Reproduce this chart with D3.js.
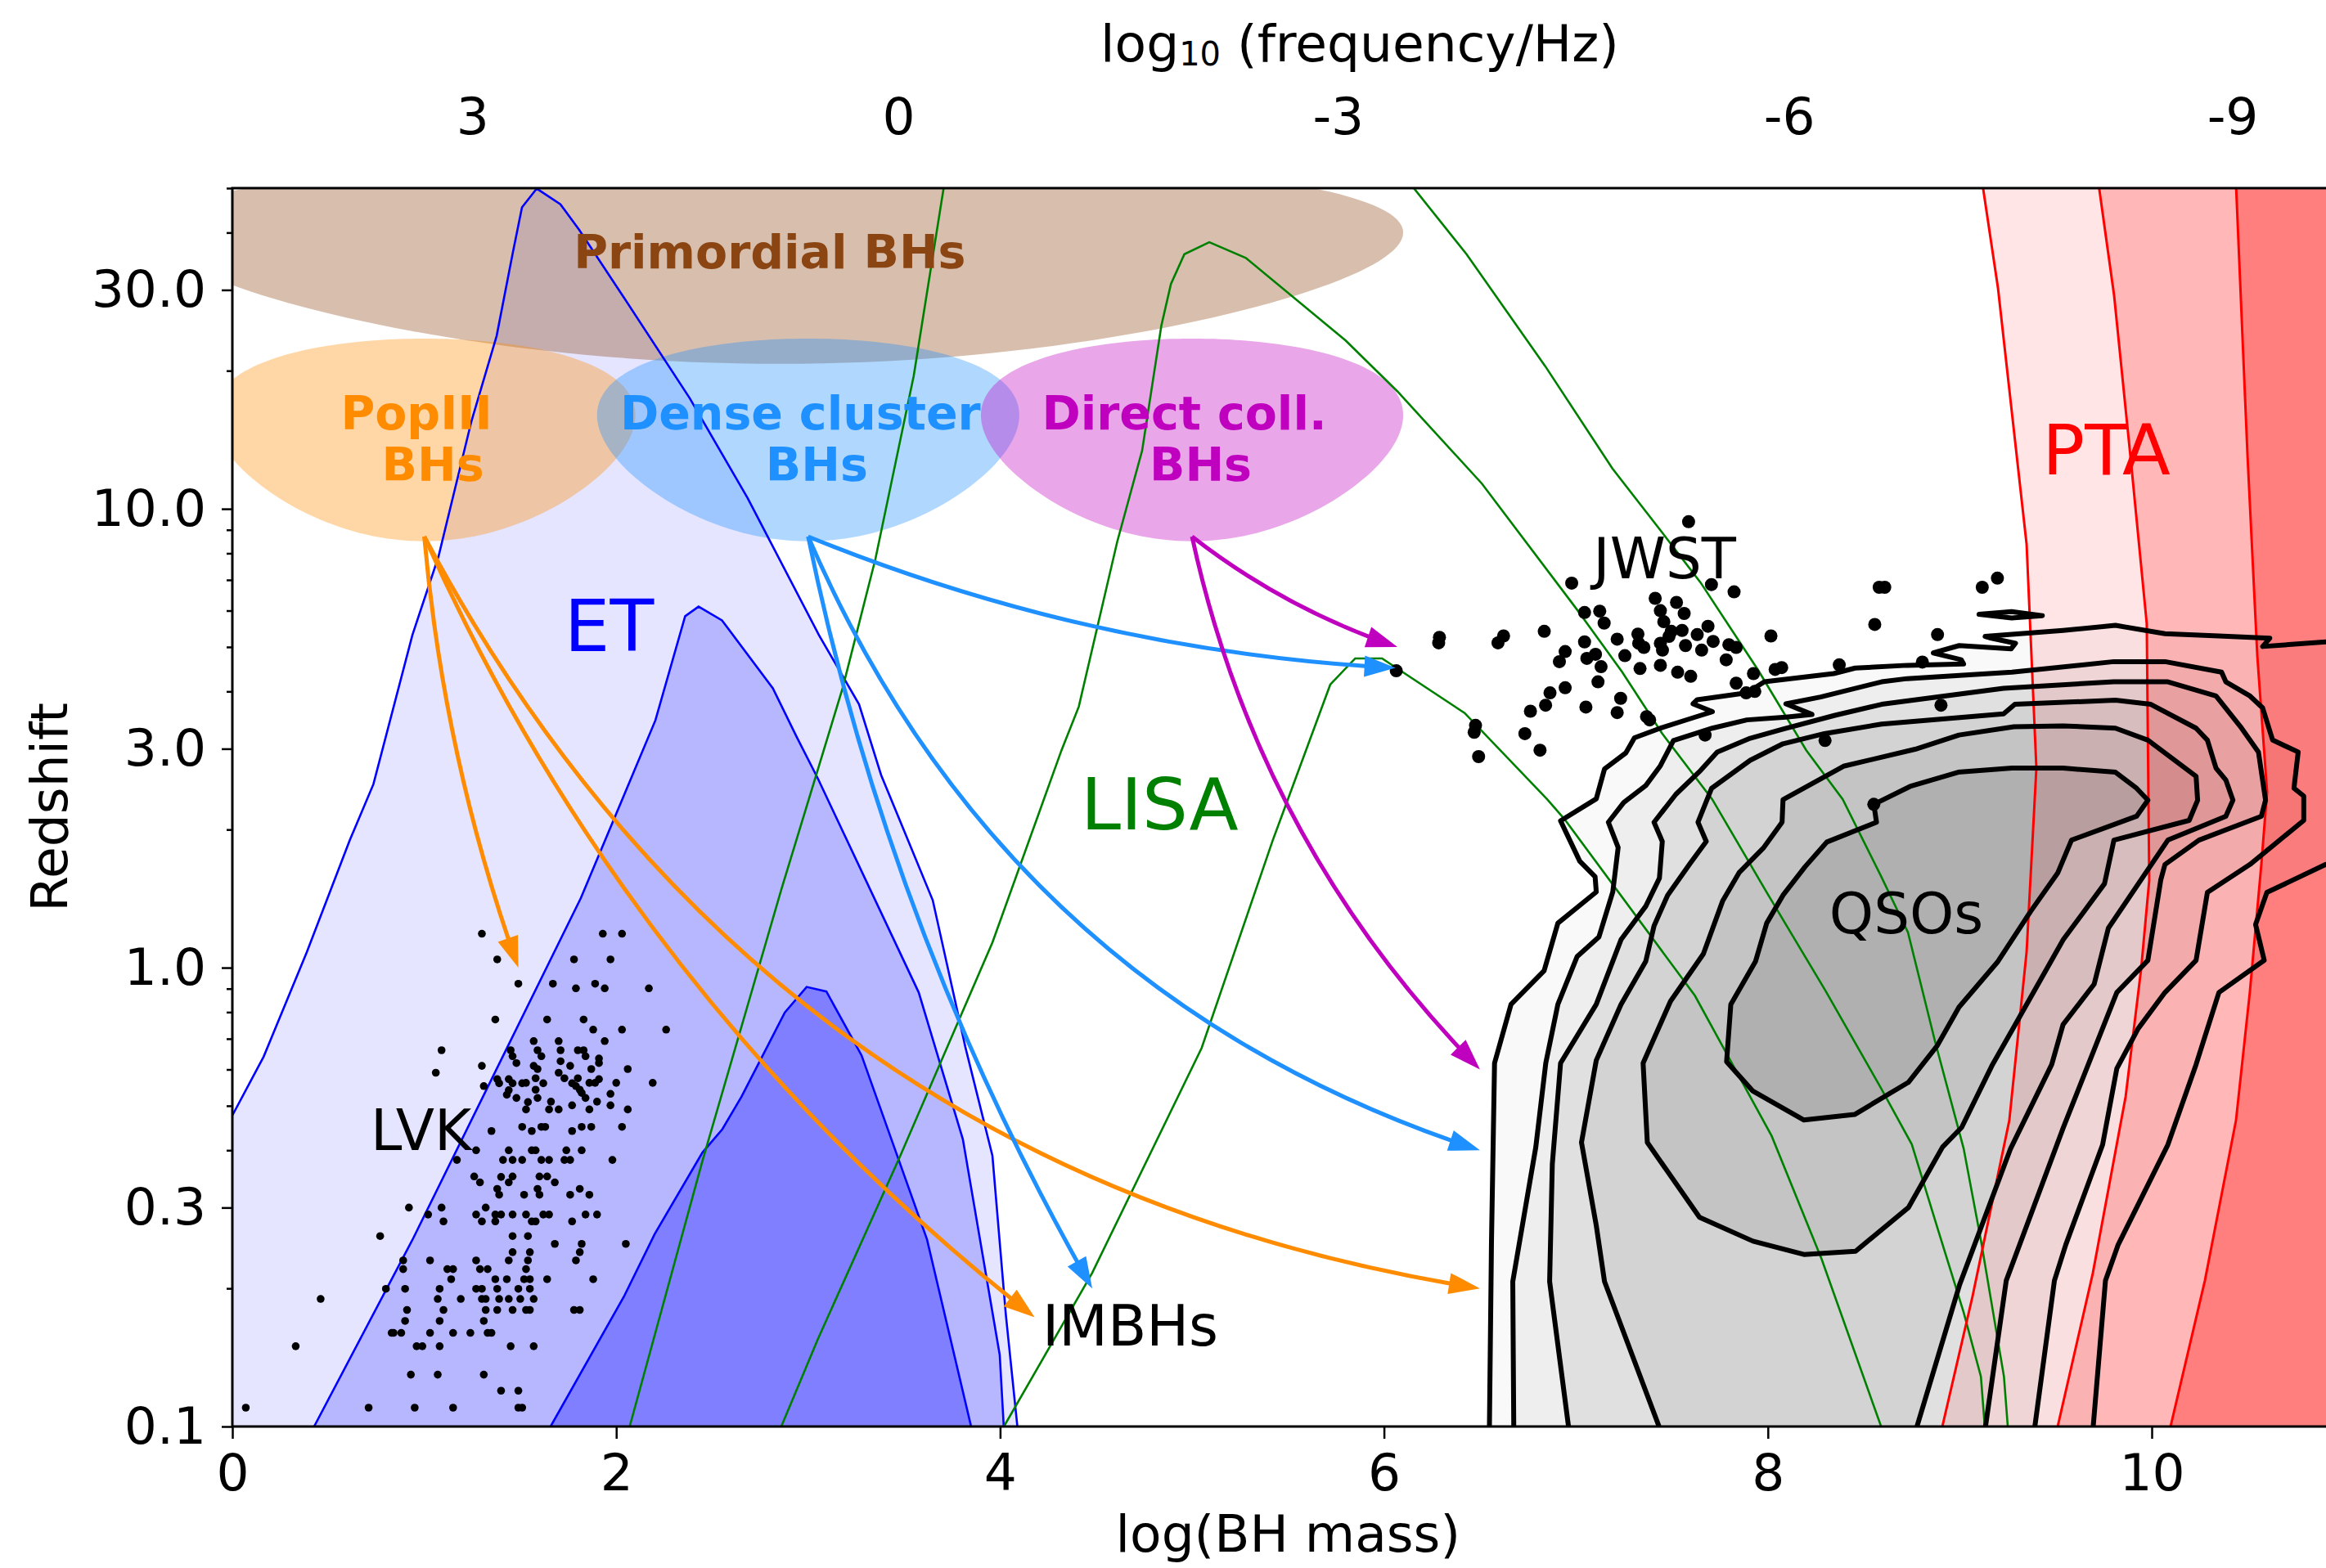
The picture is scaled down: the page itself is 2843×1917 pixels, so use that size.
<!DOCTYPE html>
<html>
<head>
<meta charset="utf-8">
<script src="https://cdn.jsdelivr.net/npm/d3@7"></script>
<style>
  body { margin: 0; background: #fff; }
  svg { font-family: "DejaVu Sans", sans-serif; }
</style>
</head>
<body>
<svg id="chart"></svg>
<script>
// All curves/points below are [log10(BH mass), log10(redshift)]

// --- ET horizons (outer, middle, inner) ---
const etOuter = [[0,-0.322],[0.163,-0.194],[0.388,0.034],[0.612,0.278],[0.735,0.40],[0.938,0.725],[1.074,0.896],[1.245,1.19],[1.377,1.377],[1.462,1.56],[1.509,1.657],[1.586,1.698],[1.709,1.664],[1.807,1.608],[2.025,1.47],[2.383,1.241],[2.685,1.023],[3.056,0.725],[3.265,0.574],[3.38,0.42],[3.649,0.147],[3.819,-0.173],[3.96,-0.41],[4.03,-0.757],[4.09,-1.0]];
const etMid = [[0.426,-1.0],[0.942,-0.59],[1.432,-0.174],[1.816,0.152],[2.204,0.539],[2.359,0.766],[2.429,0.787],[2.551,0.757],[2.816,0.609],[2.939,0.504],[3.052,0.411],[3.576,-0.054],[3.806,-0.374],[3.998,-0.844],[4.019,-1.0]];
const etInner = [[1.658,-1.0],[2.04,-0.717],[2.2,-0.581],[2.449,-0.403],[2.553,-0.352],[2.653,-0.281],[2.878,-0.098],[2.992,-0.042],[3.095,-0.052],[3.278,-0.191],[3.619,-0.592],[3.849,-1.0]];

// --- LISA horizons ---
const lisaOuter = [[2.07,-1.0],[2.45,-0.42],[2.86,0.17],[3.18,0.61],[3.35,0.89],[3.55,1.29],[3.71,1.71],[3.78,1.85],[6.05,1.85],[6.14,1.707],[6.43,1.555],[6.84,1.311],[7.19,1.088],[7.45,0.948],[7.65,0.839],[7.95,0.648],[8.20,0.474],[8.39,0.367],[8.59,0.199],[8.73,0.077],[8.87,-0.159],[9.02,-0.394],[9.11,-0.594],[9.23,-0.891],[9.25,-1.0]];
const lisaMid = [[2.86,-1.0],[3.05,-0.81],[3.48,-0.41],[3.96,0.055],[4.32,0.474],[4.41,0.569],[4.61,0.928],[4.74,1.127],[4.84,1.399],[4.89,1.49],[4.96,1.555],[5.09,1.581],[5.28,1.547],[5.80,1.367],[6.07,1.256],[6.51,1.055],[7.01,0.778],[7.24,0.645],[7.45,0.51],[7.71,0.367],[8.0,0.16],[8.3,-0.05],[8.59,-0.263],[8.75,-0.385],[8.89,-0.576],[9.02,-0.751],[9.11,-0.891],[9.13,-1.0]];
const lisaInner = [[4.02,-1.0],[4.48,-0.665],[5.05,-0.175],[5.42,0.277],[5.72,0.617],[5.85,0.674],[5.99,0.674],[6.42,0.555],[6.85,0.367],[6.94,0.324],[7.62,-0.061],[8.02,-0.367],[8.28,-0.635],[8.59,-1.0]];

// --- PTA horizons (top to bottom) ---
const ptaOuter = [[9.118,1.708],[9.199,1.481],[9.348,0.923],[9.399,0.435],[9.348,0.034],[9.258,-0.333],[9.066,-0.717],[8.909,-1.0]];
const ptaMid = [[9.723,1.708],[9.804,1.465],[9.893,1.098],[9.974,0.75],[9.987,0.19],[9.945,-0.002],[9.864,-0.281],[9.693,-0.666],[9.51,-1.0]];
const ptaInner = [[10.439,1.708],[10.499,1.116],[10.55,0.68],[10.601,0.383],[10.571,0.225],[10.511,-0.054],[10.439,-0.333],[10.277,-0.682],[10.098,-1.0]];

// --- QSO density contours (outer to inner) ---
const qso1 = [[6.548,-1.05],[6.560,-0.60],[6.576,-0.208],[6.662,-0.080],[6.834,-0.007],[6.906,0.097],[7.106,0.165],[7.10,0.198],[7.02,0.232],[6.92,0.32],[7.106,0.368],[7.149,0.433],[7.26,0.468],[7.305,0.501],[7.44,0.522],[7.621,0.546],[7.711,0.558],[7.61,0.575],[7.632,0.584],[7.891,0.599],[7.982,0.623],[8.343,0.641],[8.455,0.653],[8.726,0.659],[9.02,0.662],[9.008,0.671],[8.862,0.686],[8.997,0.702],[9.268,0.695],[9.29,0.707],[9.155,0.719],[9.132,0.722],[9.538,0.735],[9.811,0.746],[10.069,0.728],[10.349,0.723],[10.615,0.718],[10.578,0.70],[10.907,0.71],[11.3,0.70],[11.3,0.22],[10.907,0.225],[10.6,0.164],[10.541,0.094],[10.586,0.016],[10.35,-0.054],[10.231,-0.211],[10.084,-0.386],[9.825,-0.604],[9.759,-0.682],[9.685,-1.05]];
const qso2 = [[6.677,-1.05],[6.671,-0.684],[6.791,-0.391],[6.843,-0.208],[6.906,-0.08],[7.006,0.024],[7.12,0.067],[7.192,0.165],[7.22,0.262],[7.169,0.317],[7.249,0.36],[7.364,0.397],[7.44,0.44],[7.508,0.495],[7.711,0.522],[7.891,0.54],[8.094,0.546],[8.23,0.552],[8.094,0.575],[8.275,0.59],[8.593,0.623],[8.726,0.630],[9.272,0.644],[9.803,0.667],[10.069,0.667],[10.364,0.644],[10.386,0.623],[10.512,0.592],[10.578,0.566],[10.63,0.496],[10.763,0.470],[10.741,0.391],[10.792,0.374],[10.792,0.321],[10.512,0.225],[10.29,0.164],[10.231,0.016],[10.069,-0.054],[9.929,-0.133],[9.818,-0.22],[9.744,-0.386],[9.552,-0.604],[9.493,-0.682],[9.375,-1.05]];
const qso3 = [[6.977,-1.05],[6.863,-0.684],[6.877,-0.428],[6.92,-0.208],[7.106,-0.08],[7.235,0.061],[7.364,0.134],[7.435,0.195],[7.45,0.275],[7.407,0.317],[7.521,0.378],[7.65,0.43],[7.736,0.47],[7.908,0.50],[8.079,0.52],[8.35,0.55],[8.593,0.574],[9.228,0.609],[9.803,0.623],[10.084,0.623],[10.335,0.592],[10.468,0.522],[10.556,0.470],[10.593,0.365],[10.571,0.330],[10.246,0.278],[10.069,0.225],[10.047,0.191],[9.98,0.016],[9.818,-0.054],[9.538,-0.35],[9.242,-0.682],[9.117,-1.05]];
const qso4 = [[7.478,-1.05],[7.149,-0.684],[7.106,-0.562],[7.029,-0.381],[7.106,-0.202],[7.235,-0.08],[7.364,0.014],[7.407,0.091],[7.478,0.158],[7.593,0.226],[7.679,0.275],[7.636,0.317],[7.707,0.391],[7.908,0.452],[8.079,0.488],[8.294,0.51],[8.593,0.531],[9.228,0.553],[9.287,0.574],[9.811,0.583],[9.995,0.574],[10.231,0.522],[10.29,0.496],[10.335,0.435],[10.386,0.409],[10.423,0.365],[10.386,0.33],[10.084,0.278],[9.774,0.086],[9.70,-0.036],[9.538,-0.124],[9.479,-0.211],[9.265,-0.394],[8.999,-0.691],[8.741,-1.05]];
const qso5 = [[8.079,0.366],[8.394,0.439],[8.767,0.476],[8.996,0.507],[9.282,0.525],[9.538,0.527],[9.811,0.522],[9.98,0.496],[10.231,0.417],[10.239,0.365],[10.195,0.321],[9.803,0.278],[9.754,0.183],[9.539,0.061],[9.282,-0.129],[9.167,-0.214],[9.01,-0.348],[8.91,-0.391],[8.732,-0.523],[8.457,-0.618],[8.188,-0.625],[7.922,-0.596],[7.644,-0.544],[7.372,-0.381],[7.35,-0.208],[7.493,-0.073],[7.664,0.03],[7.765,0.146],[7.85,0.207],[7.979,0.262],[8.074,0.317]];
const qso6 = [[8.552,0.356],[8.741,0.395],[8.992,0.426],[9.272,0.435],[9.538,0.435],[9.811,0.426],[9.921,0.391],[9.98,0.365],[9.921,0.330],[9.582,0.278],[9.511,0.207],[9.368,0.122],[9.196,0.012],[8.996,-0.086],[8.881,-0.171],[8.732,-0.25],[8.452,-0.32],[8.188,-0.332],[7.922,-0.269],[7.785,-0.205],[7.807,-0.08],[7.936,0.014],[7.994,0.097],[8.079,0.158],[8.194,0.22],[8.308,0.274],[8.566,0.317]];
const qsoIsland = [[9.10,0.770],[9.27,0.776],[9.43,0.767],[9.27,0.762]];

// --- LVK detections ---
const lvkEvents = [
 [1.30,0.074],[1.93,0.074],[2.03,0.074],[1.38,0.018],[1.78,0.018],[1.97,0.018],
 [1.49,-0.035],[1.67,-0.035],[1.89,-0.035],[1.79,-0.045],[1.94,-0.045],[2.17,-0.045],
 [1.37,-0.113],[1.64,-0.113],[1.83,-0.113],[1.88,-0.135],[2.03,-0.135],[2.26,-0.135],
 [1.57,-0.160],[1.70,-0.160],[1.94,-0.160],
 [1.09,-0.180],[1.45,-0.180],[1.59,-0.180],[1.71,-0.180],[1.80,-0.180],[1.83,-0.180],
 [1.46,-0.193],[1.61,-0.193],[1.84,-0.193],[1.91,-0.198],[1.48,-0.208],[1.71,-0.204],[1.91,-0.208],
 [1.30,-0.214],[1.57,-0.214],[1.76,-0.214],[2.06,-0.221],[1.59,-0.221],[1.87,-0.221],
 [1.06,-0.229],[1.70,-0.229],
 [1.38,-0.243],[1.44,-0.243],[1.58,-0.241],[1.73,-0.241],[1.80,-0.241],[1.91,-0.243],
 [1.53,-0.251],[1.86,-0.251],[1.89,-0.251],[2.00,-0.251],[2.19,-0.251],
 [1.39,-0.252],[1.46,-0.252],[1.51,-0.252],[1.62,-0.252],[1.77,-0.252],
 [1.31,-0.258],[1.79,-0.258],[1.44,-0.267],[1.58,-0.266],[1.81,-0.266],[1.82,-0.273],
 [1.97,-0.275],[1.43,-0.277],[1.48,-0.284],[1.59,-0.284],[1.84,-0.284],
 [1.54,-0.293],[1.66,-0.292],[1.90,-0.292],[1.77,-0.300],[1.97,-0.300],
 [1.53,-0.309],[1.65,-0.309],[1.70,-0.309],[1.86,-0.309],[2.06,-0.309],
 [1.51,-0.347],[1.61,-0.347],[1.63,-0.347],[1.82,-0.347],[1.87,-0.347],[2.03,-0.347],
 [1.35,-0.356],[1.56,-0.356],[1.77,-0.356],
 [1.27,-0.398],[1.44,-0.398],[1.56,-0.398],[1.58,-0.398],[1.74,-0.398],[1.82,-0.398],
 [1.17,-0.419],[1.41,-0.419],[1.46,-0.419],[1.51,-0.419],[1.61,-0.419],[1.65,-0.419],[1.73,-0.419],[1.76,-0.419],[1.98,-0.419],
 [1.26,-0.455],[1.40,-0.456],[1.46,-0.455],[1.60,-0.455],[1.64,-0.455],
 [1.29,-0.468],[1.44,-0.468],[1.68,-0.468],[1.38,-0.482],[1.59,-0.482],[1.81,-0.482],
 [1.39,-0.495],[1.52,-0.495],[1.60,-0.495],[1.76,-0.495],[1.86,-0.495],
 [0.92,-0.523],[1.09,-0.523],[1.32,-0.523],
 [1.02,-0.538],[1.27,-0.538],[1.37,-0.538],[1.40,-0.538],[1.46,-0.538],[1.53,-0.538],[1.62,-0.538],[1.65,-0.538],[1.84,-0.538],[1.90,-0.538],
 [1.10,-0.553],[1.30,-0.553],[1.37,-0.553],[1.56,-0.553],[1.58,-0.553],[1.77,-0.553],
 [0.77,-0.585],[1.46,-0.585],[1.54,-0.585],[1.68,-0.602],[1.82,-0.602],[2.05,-0.602],
 [1.46,-0.620],[1.55,-0.620],[1.81,-0.620],
 [0.89,-0.638],[1.03,-0.638],[1.27,-0.638],[1.44,-0.638],[1.54,-0.638],[1.79,-0.638],
 [0.89,-0.657],[1.12,-0.657],[1.15,-0.657],[1.29,-0.657],[1.33,-0.657],[1.53,-0.657],
 [1.14,-0.679],[1.37,-0.679],[1.43,-0.679],[1.52,-0.679],[1.55,-0.679],[1.64,-0.679],[1.88,-0.679],
 [0.80,-0.700],[0.90,-0.700],[1.08,-0.700],[1.27,-0.700],[1.30,-0.700],[1.38,-0.700],[1.49,-0.700],[1.55,-0.700],
 [0.46,-0.722],[1.07,-0.722],[1.19,-0.722],[1.30,-0.722],[1.32,-0.722],[1.39,-0.722],[1.44,-0.722],[1.50,-0.722],[1.57,-0.722],
 [0.91,-0.746],[1.10,-0.746],[1.32,-0.746],[1.38,-0.746],[1.46,-0.746],[1.53,-0.746],[1.55,-0.746],[1.78,-0.746],[1.81,-0.746],
 [0.90,-0.770],[1.08,-0.770],[1.31,-0.770],
 [0.83,-0.796],[0.84,-0.796],[0.88,-0.796],[1.03,-0.796],[1.15,-0.796],[1.24,-0.796],[1.33,-0.796],[1.35,-0.796],
 [0.33,-0.825],[0.96,-0.825],[0.99,-0.825],[1.08,-0.825],[1.45,-0.825],[1.57,-0.825],
 [0.93,-0.887],[1.07,-0.887],[1.31,-0.887],[1.40,-0.922],[1.49,-0.922],
 [0.07,-0.959],[0.71,-0.959],[0.95,-0.959],[1.15,-0.959],[1.49,-0.959],[1.51,-0.959]
];

// --- JWST high-z AGN ---
const jwstAgn = [
 [7.587,0.972],[6.978,0.838],[7.706,0.835],[7.824,0.819],[8.580,0.829],[8.609,0.829],[9.117,0.829],[9.196,0.849],
 [7.413,0.805],[7.524,0.796],[7.045,0.774],[7.124,0.777],[7.440,0.778],[7.564,0.772],[7.147,0.751],[7.458,0.754],
 [6.289,0.720],[6.285,0.708],[6.623,0.723],[6.594,0.708],[6.835,0.733],[7.688,0.744],[7.553,0.735],[7.632,0.726],
 [7.497,0.733],[7.323,0.727],[8.016,0.723],[7.045,0.710],[7.215,0.716],[7.327,0.707],[7.440,0.707],[7.354,0.698],
 [7.485,0.722],[7.571,0.702],[7.715,0.711],[7.797,0.704],[7.835,0.698],[7.655,0.692],[7.451,0.692],[6.944,0.689],
 [6.914,0.667],[7.102,0.683],[7.057,0.674],[7.255,0.680],[7.783,0.671],[7.440,0.659],[7.131,0.656],[7.334,0.652],
 [7.530,0.644],[7.598,0.635],[7.925,0.641],[8.038,0.650],[8.072,0.654],[8.372,0.660],[8.805,0.666],[8.557,0.748],
 [8.884,0.726],[6.064,0.647],[6.865,0.599],[6.944,0.610],[7.115,0.623],[6.842,0.572],[6.763,0.559],[7.233,0.587],
 [7.052,0.568],[7.215,0.556],[7.368,0.547],[7.384,0.540],[7.835,0.620],[7.887,0.599],[7.932,0.602],[6.477,0.528],
 [6.470,0.513],[6.734,0.510],[6.813,0.474],[6.493,0.460],[7.673,0.507],[8.298,0.495],[8.902,0.572],[8.552,0.356]
];

// --- seed populations: ellipses in (log mass, redshift) ---
const blobNames   = ["Primordial BHs", "PopIII|BHs", "Dense cluster|BHs", "Direct coll.|BHs"];
const blobCenterM = [2.85, 1.0, 3.0, 5.0];
const blobCenterZ = [40, 16, 16, 16];
const blobWidthM  = [6.5, 2.2, 2.2, 2.2];
const blobHeightZ = [38.6, 15, 15, 15];

// --- arrows from seed populations: [log mass, redshift] ---
const arrowFrom  = [[1.0,8.7],[1.0,8.7],[1.0,8.7],[3.0,8.7],[3.0,8.7],[3.0,8.7],[5.0,8.7],[5.0,8.7]];
const arrowTo    = [[1.49,1.0],[4.18,0.173],[6.5,0.2],[6.06,4.5],[6.5,0.4],[4.48,0.2],[6.07,5.0],[6.5,0.6]];
const arrowBend  = [0.064, 0.124, 0.25, 0.084, 0.226, 0.08, 0.085, 0.145];
const arrowBlob  = [1, 1, 1, 2, 2, 2, 3, 3];

// --- axis ticks ---
const xTicks = [0, 2, 4, 6, 8, 10];
const yTicks = [0.1, 0.3, 1, 3, 10, 30];
const yMinorTicks = [0.2,0.4,0.5,0.6,0.7,0.8,0.9,2,4,5,6,7,8,9,20,40,50];
const freqTickAt = [1.25, 3.47, 5.76, 8.11, 10.42];
const freqTickLabel = ["3", "0", "-3", "-6", "-9"];

// ---------------- drawing ----------------
const W = 2843, H = 1917;
const svg = d3.select("#chart").attr("width", W).attr("height", H);

const x = d3.scaleLinear().domain([0, 11]).range([284, 284 + 11 * 234.6]);
const y = d3.scaleLog().domain([0.1, 50]).range([1744, 230]);
const Z = lz => Math.pow(10, lz);
const px = d => x(d[0]), py = d => y(Z(d[1]));
const curve = d3.line().x(px).y(py);
const zCurve = d3.line().x(d => x(d[0])).y(d => y(d[1]));

svg.append("defs").append("clipPath").attr("id", "plotClip").append("rect")
  .attr("x", x(0)).attr("y", y(50)).attr("width", x(11) - x(0)).attr("height", y(0.1) - y(50));
const plot = svg.append("g").attr("clip-path", "url(#plotClip)");

// ET filled horizons
const etArea = d3.area().x(px).y0(y(0.1)).y1(py);
[[etOuter, 0.1], [etMid, 0.2], [etInner, 0.3]].forEach(([d, a]) => {
  plot.append("path").attr("d", etArea(d)).attr("fill", "blue").attr("fill-opacity", a);
});

// QSO filled contours
const qsoLevels = [qso1, qso2, qso3, qso4, qso5, qso6];
const qsoGrey = ["#f9f9f9", "#eeeeee", "#e0e0e0", "#d3d3d3", "#c4c4c4", "#b0b0b0"];
qsoLevels.forEach((d, i) => {
  plot.append("path").attr("d", curve(d) + "Z").attr("fill", qsoGrey[i]);
});
plot.append("path").attr("d", curve(qsoIsland) + "Z").attr("fill", qsoGrey[0]);

// PTA filled horizons (fill to the right)
const ptaArea = d3.area().y(py).x0(px).x1(() => x(11.5));
[[ptaOuter, 0.1], [ptaMid, 0.2], [ptaInner, 0.3]].forEach(([d, a]) => {
  plot.append("path").attr("d", ptaArea(d)).attr("fill", "red").attr("fill-opacity", a);
});

// seed ellipses
const blobColor = ["saddlebrown", "darkorange", "dodgerblue", "#bf00bf"];
blobNames.forEach((n, i) => {
  const pts = d3.range(0, 360, 2).map(t => {
    const r = t * Math.PI / 180;
    return [blobCenterM[i] + blobWidthM[i] / 2 * Math.cos(r), blobCenterZ[i] + blobHeightZ[i] / 2 * Math.sin(r)];
  });
  plot.append("path").attr("d", zCurve(pts) + "Z").attr("fill", blobColor[i]).attr("fill-opacity", 0.35);
});

// outlines
[etOuter, etMid, etInner].forEach(d => plot.append("path").attr("d", curve(d))
  .attr("fill", "none").attr("stroke", "blue").attr("stroke-width", 2.6));
[lisaOuter, lisaMid, lisaInner].forEach(d => plot.append("path").attr("d", curve(d))
  .attr("fill", "none").attr("stroke", "green").attr("stroke-width", 2.6));
[ptaOuter, ptaMid, ptaInner].forEach(d => plot.append("path").attr("d", curve(d))
  .attr("fill", "none").attr("stroke", "red").attr("stroke-width", 3));
qsoLevels.concat([qsoIsland]).forEach(d => plot.append("path").attr("d", curve(d) + "Z")
  .attr("fill", "none").attr("stroke", "black").attr("stroke-width", 6).attr("stroke-linejoin", "round"));

// curved arrows (quadratic, arc3-like bend)
const headLen = 38, headHalf = 13;
arrowFrom.forEach((f, i) => {
  const x0 = x(f[0]), y0 = y(f[1]), x1 = x(arrowTo[i][0]), y1 = y(arrowTo[i][1]);
  const dx = x1 - x0, dy = y1 - y0, k = arrowBend[i];
  const cx = (x0 + x1) / 2 - k * dy, cy = (y0 + y1) / 2 + k * dx;
  const bez = t => [(1 - t) * (1 - t) * x0 + 2 * (1 - t) * t * cx + t * t * x1,
                    (1 - t) * (1 - t) * y0 + 2 * (1 - t) * t * cy + t * t * y1];
  let len = 0, prev = bez(0);
  for (let s = 1; s <= 50; s++) { const p = bez(s / 50); len += Math.hypot(p[0] - prev[0], p[1] - prev[1]); prev = p; }
  const te = 1 - headLen * 0.9 / len;
  const q1 = [x0 + (cx - x0) * te, y0 + (cy - y0) * te], q2 = bez(te);
  const col = blobColor[arrowBlob[i]];
  svg.append("path").attr("d", `M${x0},${y0}Q${q1[0]},${q1[1]} ${q2[0]},${q2[1]}`)
    .attr("fill", "none").attr("stroke", col).attr("stroke-width", 5);
  let ux = x1 - cx, uy = y1 - cy; const ul = Math.hypot(ux, uy); ux /= ul; uy /= ul;
  const bx = x1 - ux * headLen, by = y1 - uy * headLen;
  svg.append("path")
    .attr("d", `M${x1},${y1}L${bx - uy * headHalf},${by + ux * headHalf}L${bx + uy * headHalf},${by - ux * headHalf}Z`)
    .attr("fill", col);
});

// scatter
plot.selectAll(".lvk").data(lvkEvents).enter().append("circle")
  .attr("cx", px).attr("cy", py).attr("r", 4.8).attr("fill", "black");
plot.selectAll(".jwst").data(jwstAgn).enter().append("circle")
  .attr("cx", px).attr("cy", py).attr("r", 8).attr("fill", "black");

// seed labels
svg.append("text").attr("x", x(2.8)).attr("y", y(33.4)).attr("text-anchor", "middle")
  .attr("font-size", 57).attr("font-weight", "bold").attr("fill", "saddlebrown").text("Primordial BHs");
blobNames.slice(1).forEach((n, j) => {
  const i = j + 1, lines = n.split("|");
  const t = svg.append("text").attr("text-anchor", "middle").attr("font-size", 57)
    .attr("font-weight", "bold").attr("fill", blobColor[i]);
  t.append("tspan").attr("x", x(blobCenterM[i]) - 9.5).attr("y", y(14.9)).text(lines[0]);
  t.append("tspan").attr("x", x(blobCenterM[i]) + 10.5).attr("y", y(14.9) + 63).text(lines[1]);
});

// detector / population labels
const label = (m, z, s, size, col) => svg.append("text").attr("x", x(m)).attr("y", y(z))
  .attr("font-size", size).attr("fill", col).text(s);
label(1.73, 4.9, "ET", 88, "blue");
label(4.42, 2.0, "LISA", 88, "green");
label(9.43, 11.9, "PTA", 86, "red");
label(8.32, 1.19, "QSOs", 69, "black");
label(7.09, 7.05, "JWST", 69, "black");
label(0.72, 0.4, "LVK", 69, "black");
label(4.22, 0.15, "IMBHs", 69, "black");

// frame
svg.append("rect").attr("x", x(0)).attr("y", y(50)).attr("width", x(11) - x(0))
  .attr("height", y(0.1) - y(50)).attr("fill", "none").attr("stroke", "black").attr("stroke-width", 3);

// axes
const styleAxis = g => {
  g.select(".domain").remove();
  g.attr("font-size", 63).attr("font-family", "DejaVu Sans");
  g.selectAll("line").attr("stroke-width", 2.5);
  g.selectAll("text").attr("fill", "black");
};
svg.append("g").attr("transform", `translate(0,${y(0.1)})`)
  .call(d3.axisBottom(x).tickValues(xTicks).tickFormat(d3.format("d")).tickSize(15).tickPadding(18)).call(styleAxis);
svg.append("g").attr("transform", `translate(${x(0)},0)`)
  .call(d3.axisLeft(y).tickValues(yTicks).tickFormat(d3.format(".1f")).tickSize(13).tickPadding(19)).call(styleAxis);
svg.append("g").attr("transform", `translate(${x(0)},0)`)
  .call(d3.axisLeft(y).tickValues(yMinorTicks).tickFormat("").tickSize(7)).call(styleAxis);
svg.append("g").attr("transform", `translate(0,${y(50)})`)
  .call(d3.axisTop(x).tickValues(freqTickAt).tickFormat((d, i) => freqTickLabel[i]).tickSize(0).tickPadding(66))
  .call(styleAxis);

// axis titles
svg.append("text").attr("x", (x(0) + x(11)) / 2).attr("y", 1897).attr("text-anchor", "middle")
  .attr("font-size", 63).text("log(BH mass)");
svg.append("text").attr("transform", `translate(82,${(y(0.1) + y(50)) / 2}) rotate(-90)`)
  .attr("text-anchor", "middle").attr("font-size", 63).text("Redshift");
const freqTitle = svg.append("text").attr("x", 1662).attr("y", 75).attr("text-anchor", "middle").attr("font-size", 63);
freqTitle.append("tspan").text("log");
freqTitle.append("tspan").attr("font-size", 40).attr("dy", 5).text("10");
freqTitle.append("tspan").attr("dy", -5).text(" (frequency/Hz)");
</script>
</body>
</html>
